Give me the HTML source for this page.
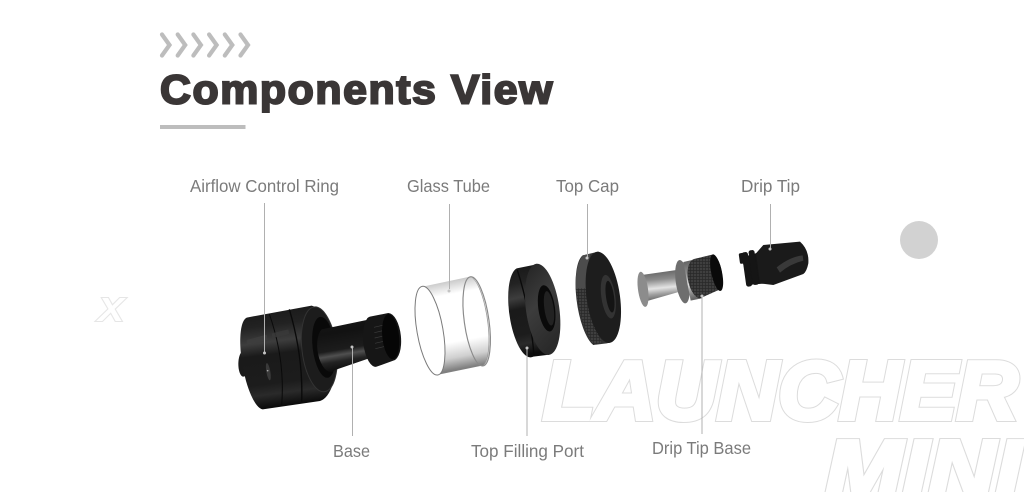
<!DOCTYPE html>
<html><head><meta charset="utf-8"><style>
html,body{margin:0;padding:0;background:#fff}svg{display:block}
.l{font:17.5px "Liberation Sans",sans-serif;fill:#7b7b7b}
.o{font-family:"Liberation Sans",sans-serif;font-weight:700;font-style:italic}
.a{fill:none;stroke:#dcdcdc;stroke-width:6}
.b{fill:#fff;stroke:#fff;stroke-width:4}
</style></head><body>
<svg width="1024" height="492" viewBox="0 0 1024 492" xmlns="http://www.w3.org/2000/svg">
<defs>
<linearGradient id="blk" x1="0" y1="0" x2="0.12" y2="1"><stop offset="0" stop-color="#161616"/><stop offset=".22" stop-color="#222"/><stop offset=".38" stop-color="#3d3d3d"/><stop offset=".5" stop-color="#1a1a1a"/><stop offset=".78" stop-color="#1c1c1c"/><stop offset=".88" stop-color="#2a2a2a"/><stop offset="1" stop-color="#0c0c0c"/></linearGradient>
<linearGradient id="blk2" x1="0" y1="0" x2="0.18" y2="1"><stop offset="0" stop-color="#161616"/><stop offset=".3" stop-color="#121212"/><stop offset=".62" stop-color="#1c1c1c"/><stop offset=".72" stop-color="#505050"/><stop offset=".84" stop-color="#222"/><stop offset="1" stop-color="#0e0e0e"/></linearGradient>
<linearGradient id="face" x1="0" y1="0" x2="0.3" y2="1"><stop offset="0" stop-color="#222"/><stop offset=".5" stop-color="#3c3c3c"/><stop offset="1" stop-color="#2a2a2a"/></linearGradient>
<linearGradient id="sil" x1="0" y1="0" x2="0.12" y2="1"><stop offset="0" stop-color="#5a5a5a"/><stop offset=".35" stop-color="#8c8c8c"/><stop offset=".62" stop-color="#e4e4e4"/><stop offset=".8" stop-color="#a0a0a0"/><stop offset="1" stop-color="#666"/></linearGradient>
<linearGradient id="gl" x1="0" y1="0" x2="0.14" y2="1"><stop offset="0" stop-color="#8e8e8e"/><stop offset=".1" stop-color="#c9c9c9"/><stop offset=".24" stop-color="#fff"/><stop offset=".72" stop-color="#fff"/><stop offset=".88" stop-color="#cfcfcf"/><stop offset="1" stop-color="#808080"/></linearGradient>
<pattern id="kn" width="4.500" height="4.500" patternUnits="userSpaceOnUse"><rect width="4.500" height="4.500" fill="#2a2a2a"/><circle cx="2.250" cy="2.250" r="1.100" fill="#6a6a6a"/></pattern>
</defs>

<!-- header -->
<g fill="none" stroke="#bdbdbd" stroke-width="4.200" stroke-linecap="round" stroke-linejoin="miter">
<path d="M162 34.500l7.500 10.500l-7.500 10.500"/><path d="M177.700 34.500l7.500 10.500l-7.500 10.500"/><path d="M193.400 34.500l7.500 10.500l-7.500 10.500"/><path d="M209.100 34.500l7.500 10.500l-7.500 10.500"/><path d="M224.800 34.500l7.500 10.500l-7.500 10.500"/><path d="M240.500 34.500l7.500 10.500l-7.500 10.500"/>
</g>
<text x="160" y="103.500" font-family="'Liberation Sans',sans-serif" font-weight="700" font-size="41" letter-spacing="1.500" fill="#3a3636" stroke="#3a3636" stroke-width="2" textLength="394" lengthAdjust="spacingAndGlyphs">Components View</text>
<rect x="160" y="125" width="85.500" height="4" fill="#bdbdbd"/>

<!-- background outlines -->
<g class="o" font-size="83">
<text class="a" x="543" y="419" textLength="475" lengthAdjust="spacingAndGlyphs">LAUNCHER</text>
<text class="b" x="543" y="419" textLength="475" lengthAdjust="spacingAndGlyphs">LAUNCHER</text>
<text class="a" x="825" y="498" textLength="196" lengthAdjust="spacingAndGlyphs">MINI</text>
<text class="b" x="825" y="498" textLength="196" lengthAdjust="spacingAndGlyphs">MINI</text>
</g>
<text class="o" x="98" y="321" font-size="33" fill="#fff" stroke="#e6e6e6" stroke-width="2" paint-order="stroke" textLength="26" lengthAdjust="spacingAndGlyphs">X</text>
<circle cx="919" cy="240" r="19" fill="#d2d2d2"/>

<!-- base -->
<g transform="translate(220 290) scale(.33333)">
<ellipse cx="70" cy="222" rx="15" ry="38" fill="#1a1a1a"/>
<path d="M84 82L275 47A68 145 -6 0 1 300 333L128 358A40 140 -10 0 1 84 82Z" fill="url(#blk)"/>
<path d="M148 72Q196 210 185 345" fill="none" stroke="#0a0a0a" stroke-width="3"/>
<path d="M208 58Q250 200 245 335" fill="none" stroke="#0a0a0a" stroke-width="4"/>
<path d="M80 150L140 134L143 150L80 165Z" fill="#3e3e3e" opacity=".8"/>
<path d="M155 130L205 118L208 132L157 144Z" fill="#3a3a3a" opacity=".8"/>
<ellipse cx="145" cy="245" rx="6" ry="26" transform="rotate(-10 145 245)" fill="#3a3a3a"/>
<circle cx="143" cy="242" r="2.500" fill="#aaa"/>
<ellipse cx="298" cy="178" rx="52" ry="128" transform="rotate(-7 298 178)" fill="#1c1c1c" stroke="#333" stroke-width="3"/>
<ellipse cx="312" cy="172" rx="34" ry="92" transform="rotate(-7 312 172)" fill="#090909"/>
<path d="M305 118L440 90A22 62 -8 0 1 447 205L345 240A30 62 -8 0 1 305 118Z" fill="url(#blk2)"/>
<path d="M445 82A18 75 -8 0 1 465 230A18 75 -8 0 1 445 82Z" fill="#191919"/>
<path d="M450 80L505 69A32 72 -6 0 1 520 212L470 230A30 75 -6 0 1 450 80Z" fill="#161616"/>
<g stroke="#3c3c3c" stroke-width="2" fill="none"><path d="M462 112L492 105M463 128L493 121M464 144L494 137M465 160L495 153M466 176L496 169"/></g>
<ellipse cx="512" cy="140" rx="25" ry="68" transform="rotate(-6 512 140)" fill="#060606"/>
</g>

<!-- glass + rings -->
<g transform="translate(400 240) scale(.33333)">
<path d="M68 140L210 110A38 135 -8 0 1 250 376L110 405A40 135 -10 0 1 68 140Z" fill="url(#gl)"/>
<ellipse cx="90" cy="272" rx="39" ry="135" transform="rotate(-10 90 272)" fill="#fff" stroke="#7a7a7a" stroke-width="3"/>
<ellipse cx="230" cy="244" rx="37" ry="135" transform="rotate(-8 230 244)" fill="none" stroke="#8a8a8a" stroke-width="3.500"/>
<path d="M209 110A38 135 -8 0 1 249 376L240 378A37 135 -8 0 0 209 110Z" fill="#999"/>

<path d="M350 85L415 72A55 140 -8 0 1 440 345L400 350A47 135 -8 0 1 350 85Z" fill="url(#blk)"/>
<path d="M352 90Q392 215 402 348" fill="none" stroke="#0a0a0a" stroke-width="4"/>
<ellipse cx="428" cy="208" rx="50" ry="138" transform="rotate(-8 428 208)" fill="url(#face)"/>
<ellipse cx="440" cy="205" rx="25" ry="70" transform="rotate(-8 440 205)" fill="#0a0a0a"/>
<ellipse cx="447" cy="205" rx="14" ry="52" transform="rotate(-8 447 205)" fill="#222"/>

<path d="M548 46L595 35A50 140 -8 0 1 620 310L580 315A45 140 -8 0 1 548 46Z" fill="#333"/>
<path d="M527 145L575 145Q580 240 605 308L580 315Q540 250 527 145Z" fill="url(#kn)"/>
<path d="M548 46L570 42Q560 90 575 145L527 145Q525 80 548 46Z" fill="#4c4c4c"/>
<ellipse cx="610" cy="172" rx="50" ry="138" transform="rotate(-8 610 172)" fill="#1d1d1d"/>
<ellipse cx="625" cy="170" rx="21" ry="66" transform="rotate(-8 625 170)" fill="#333"/>
<ellipse cx="630" cy="170" rx="12" ry="48" transform="rotate(-8 630 170)" fill="#141414"/>
</g>

<!-- drip tip base + drip tip -->
<g transform="translate(620 230) scale(.33333)">
<path d="M65 135L170 120L176 186L75 215Z" fill="url(#sil)"/>
<path d="M60 126A15 53 -8 0 1 78 230A15 53 -8 0 1 60 126Z" fill="#8c8c8c"/>
<path d="M180 90A20 65 -8 0 1 195 220A20 65 -8 0 1 180 90Z" fill="#6e6e6e"/>
<path d="M190 96L225 88L245 205L212 212Z" fill="url(#sil)"/>
<path d="M222 87L280 73A25 58 -10 0 1 300 178L240 205A30 60 -10 0 1 222 87Z" fill="url(#kn)"/>
<ellipse cx="290" cy="128" rx="16" ry="56" transform="rotate(-12 290 128)" fill="#0a0a0a"/>
<g fill="#151515">
<path d="M365 82L425 65L440 160L385 165Z"/>
<rect x="358" y="69" width="16" height="32" rx="5" transform="rotate(-8 366 85)"/>
<rect x="372" y="66" width="18" height="104" rx="7" transform="rotate(-8 381 118)"/>
<rect x="392" y="60" width="18" height="105" rx="7" transform="rotate(-8 401 112)"/>
</g>
<path d="M408 70L430 45L540 35Q568 60 565 100Q560 125 550 132L460 165L420 160Z" fill="#1a1a1a"/>
<path d="M470 112Q510 80 548 76L550 92Q510 102 480 128Z" fill="#444" opacity=".75"/>
</g>

<!-- leaders -->
<g stroke="#b0b0b0" stroke-width="1" fill="none">
<path d="M264.500 203V353M449.500 204V289M587.500 204V258M770.500 204V248M352.500 347V436M527 347V436M702 296V434"/>
</g>
<g fill="#c4c4c4">
<circle cx="264.500" cy="353" r="1.500"/><circle cx="449" cy="291" r="1.500"/><circle cx="587" cy="258" r="1.500"/><circle cx="770" cy="249" r="1.500"/><circle cx="352" cy="347" r="1.500"/><circle cx="527" cy="348" r="1.500"/><circle cx="702" cy="296" r="1.500"/>
</g>

<!-- labels -->
<text class="l" x="190" y="192" textLength="149" lengthAdjust="spacingAndGlyphs">Airflow Control Ring</text>
<text class="l" x="407" y="192" textLength="83" lengthAdjust="spacingAndGlyphs">Glass Tube</text>
<text class="l" x="556" y="192" textLength="63" lengthAdjust="spacingAndGlyphs">Top Cap</text>
<text class="l" x="741" y="192" textLength="59" lengthAdjust="spacingAndGlyphs">Drip Tip</text>
<text class="l" x="333" y="457" textLength="37" lengthAdjust="spacingAndGlyphs">Base</text>
<text class="l" x="471" y="457" textLength="113" lengthAdjust="spacingAndGlyphs">Top Filling Port</text>
<text class="l" x="652" y="454" textLength="99" lengthAdjust="spacingAndGlyphs">Drip Tip Base</text>
</svg>
</body></html>
